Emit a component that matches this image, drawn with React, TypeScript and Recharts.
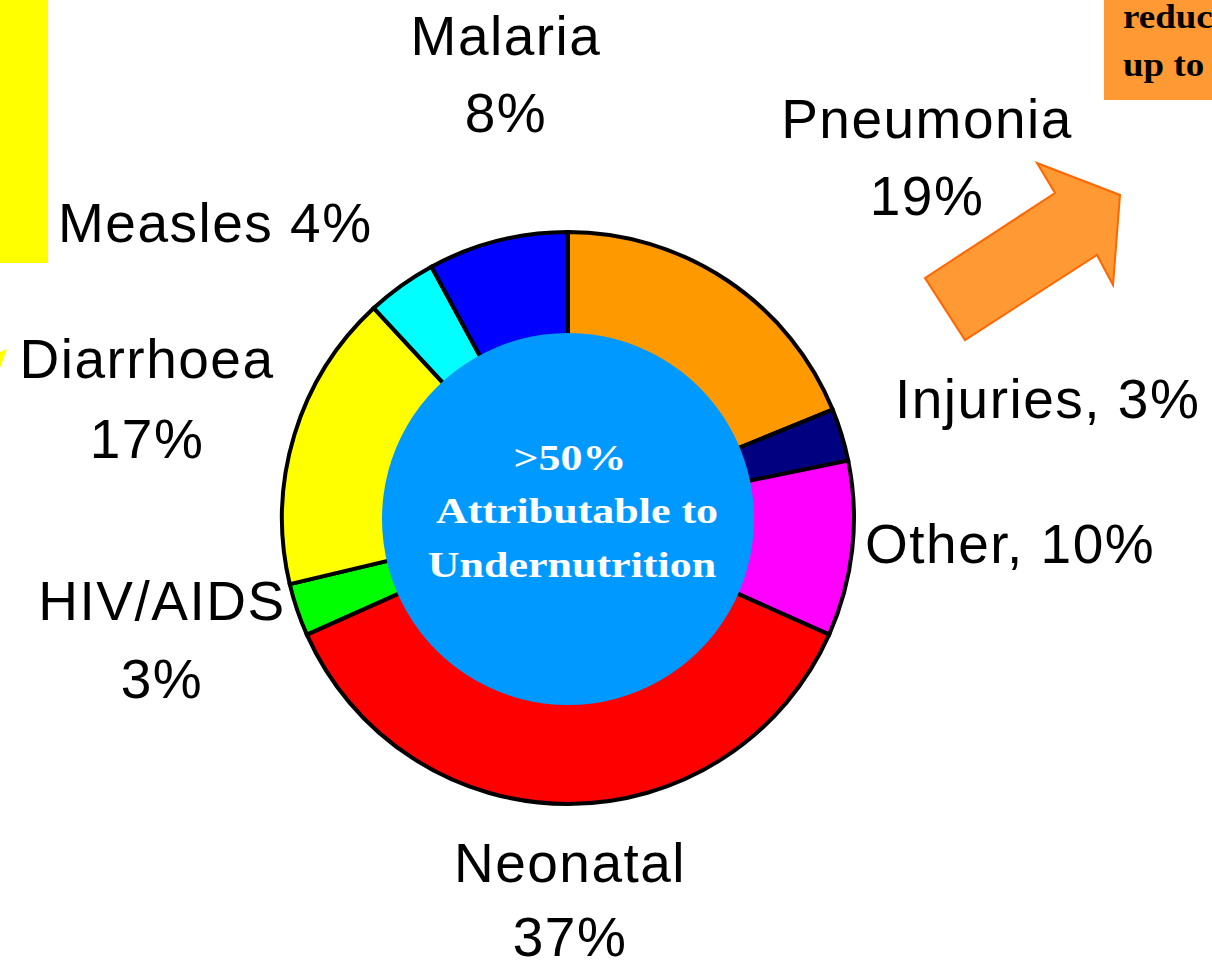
import React from 'react';
import { PieChart, Pie, Cell } from 'recharts';

// causes of child deaths, clockwise from 12 o'clock
const causes = ['Pneumonia', 'Injuries', 'Other', 'Neonatal', 'HIV/AIDS', 'Diarrhoea', 'Measles', 'Malaria'];
const shares = [19, 3, 10, 37, 3, 17, 4, 8];
const colors = ['#FF9900', '#000080', '#FF00FF', '#FF0000', '#00FF00', '#FFFF00', '#00FFFF', '#0000FF'];

const centerLines = ['>50%', 'Attributable to', 'Undernutrition'];
const boxLines = ['reduced', 'up to'];

const slices = causes.map((name, i) => ({ name, value: shares[i] }));
const core = [{ name: 'Undernutrition', value: 1 }];

// label layout (x, baselines, anchor) per cause
const labelLayout: Record<string, { x: number; ys: number[]; anchor: 'start' | 'middle'; split: boolean }> = {
  Malaria: { x: 506, ys: [55, 132], anchor: 'middle', split: true },
  Pneumonia: { x: 927, ys: [138, 215], anchor: 'middle', split: true },
  Measles: { x: 58, ys: [242], anchor: 'start', split: false },
  Diarrhoea: { x: 147, ys: [378, 458], anchor: 'middle', split: true },
  Injuries: { x: 895, ys: [418], anchor: 'start', split: false },
  Other: { x: 865, ys: [563], anchor: 'start', split: false },
  'HIV/AIDS': { x: 162, ys: [620, 698], anchor: 'middle', split: true },
  Neonatal: { x: 570, ys: [882, 956], anchor: 'middle', split: true },
};

const labelText = (name: string, v: number, split: boolean) => {
  if (split) return [name, `${v}%`];
  if (name === 'Measles') return [`${name} ${v}%`];
  return [`${name}, ${v}%`];
};

// serif bold text, a bit squashed vertically like the slide
const Squashed = ({ x, y, sy, children }: { x: number; y: number; sy: number; children: React.ReactNode }) => (
  <g transform={`translate(${x},${y}) scale(1,${sy})`}>
    <text x={0} y={0}>{children}</text>
  </g>
);

export default function App() {
  return (
    <div style={{ position: 'absolute', left: 0, top: 0, width: 1212, height: 965, background: '#fff', overflow: 'hidden' }}>
      <PieChart width={1212} height={965} margin={{ top: 0, right: 0, bottom: 0, left: 0 }}>
        <Pie
          data={slices}
          dataKey="value"
          nameKey="name"
          cx={568}
          cy={518}
          outerRadius={286}
          innerRadius={0}
          startAngle={90}
          endAngle={-270}
          stroke="#000"
          strokeWidth={4}
          isAnimationActive={false}
        >
          {slices.map((s, i) => (
            <Cell key={s.name} fill={colors[i]} />
          ))}
        </Pie>
        <Pie
          data={core}
          dataKey="value"
          cx={568}
          cy={519}
          outerRadius={186}
          startAngle={90}
          endAngle={-270}
          fill="#0099FF"
          stroke="none"
          isAnimationActive={false}
        />
      </PieChart>

      <svg width={1212} height={965} style={{ position: 'absolute', left: 0, top: 0, pointerEvents: 'none' }}>
        {/* slide decorations */}
        <rect x={0} y={0} width={48} height={263} fill="#FFFF00" />
        <polygon points="0,352 7,349 0,368" fill="#FFFF00" />
        <rect x={1104} y={0} width={120} height={100} fill="#FF9933" />
        <g fontFamily="'Liberation Serif', 'Times New Roman', serif" fontWeight="bold" fontSize={37} fill="#000">
          <Squashed x={1123} y={28} sy={0.9}>{boxLines[0]}</Squashed>
          <Squashed x={1123} y={76} sy={0.9}>{boxLines[1]}</Squashed>
        </g>
        <polygon
          points="925,278 1055,193 1037,163 1120,195 1113,285 1097,255 965,340"
          fill="#FF9933"
          stroke="#FF6600"
          strokeWidth={2}
        />

        {/* slice labels */}
        <g fontFamily="'Liberation Sans', Arial, sans-serif" fontSize={55} fill="#000" letterSpacing={1.5}>
          {slices.map((s) => {
            const l = labelLayout[s.name];
            const lines = labelText(s.name, s.value, l.split);
            return lines.map((t, j) => (
              <text key={s.name + j} x={l.x} y={l.ys[j]} textAnchor={l.anchor}>
                {t}
              </text>
            ));
          })}
        </g>

        {/* centre text */}
        <g fontFamily="'Liberation Serif', 'Times New Roman', serif" fontWeight="bold" fontSize={44} fill="#fff" textAnchor="middle">
          <Squashed x={570} y={470} sy={0.82}>{centerLines[0]}</Squashed>
          <Squashed x={577} y={523} sy={0.82}>{centerLines[1]}</Squashed>
          <Squashed x={572} y={577} sy={0.82}>{centerLines[2]}</Squashed>
        </g>
      </svg>
    </div>
  );
}
